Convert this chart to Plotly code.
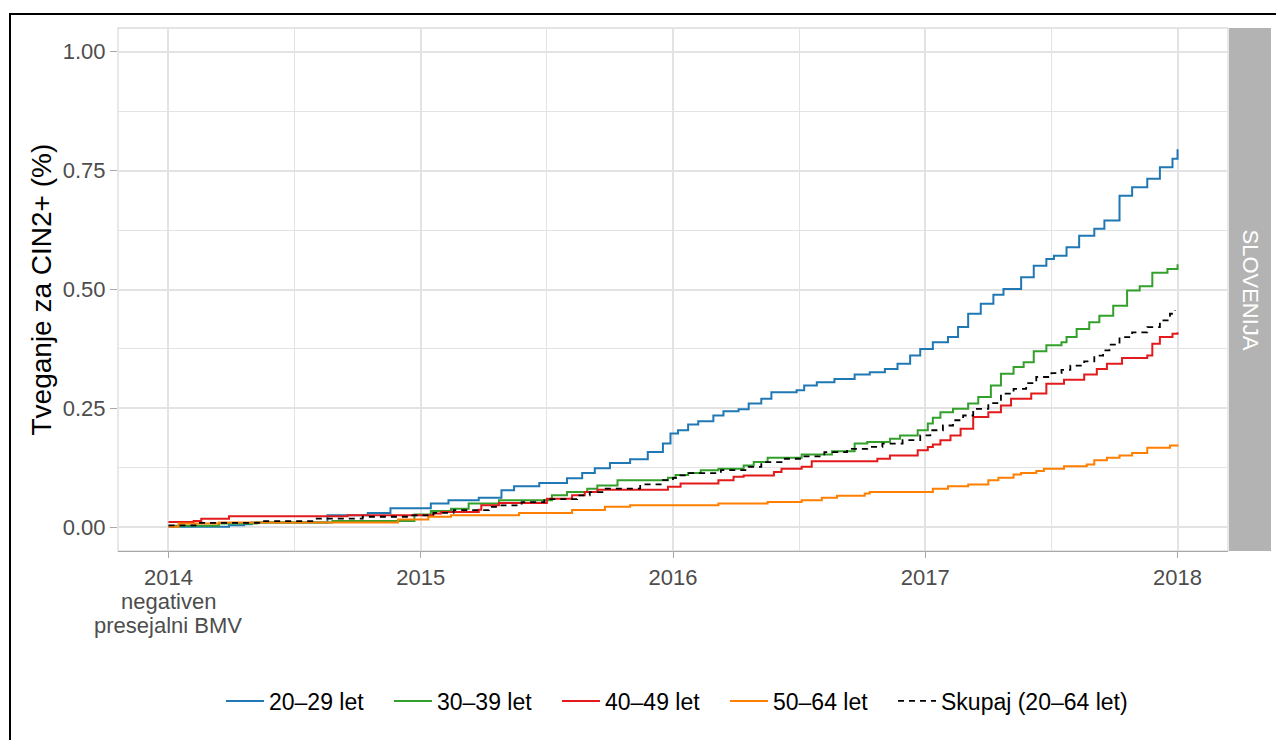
import plotly.graph_objects as go

# ---------------- data ----------------
tick_years = [2014, 2015, 2016, 2017, 2018]
tick_labels = ["2014", "2015", "2016", "2017", "2018"]
first_tick_sublabels = ["negativen", "presejalni BMV"]
y_ticks = [0.0, 0.25, 0.5, 0.75, 1.0]
y_tick_labels = ["0.00", "0.25", "0.50", "0.75", "1.00"]

series_names = ["20–29 let", "30–39 let", "40–49 let", "50–64 let", "Skupaj (20–64 let)"]

x_2029 = [2014.00, 2014.24, 2014.30, 2014.33, 2014.63, 2014.79, 2014.88, 2015.04, 2015.11, 2015.23,
          2015.32, 2015.37, 2015.47, 2015.58, 2015.64, 2015.69, 2015.75, 2015.83, 2015.90, 2015.96,
          2015.99, 2016.02, 2016.06, 2016.10, 2016.16, 2016.20, 2016.26, 2016.30, 2016.35, 2016.39,
          2016.49, 2016.52, 2016.57, 2016.64, 2016.72, 2016.78, 2016.84, 2016.89, 2016.94, 2016.98,
          2017.03, 2017.09, 2017.13, 2017.17, 2017.22, 2017.27, 2017.31, 2017.38, 2017.43, 2017.48,
          2017.51, 2017.56, 2017.61, 2017.67, 2017.71, 2017.77, 2017.82, 2017.88, 2017.93, 2017.98,
          2018.00]
y_2029 = [0.001, 0.004, 0.006, 0.010, 0.025, 0.030, 0.040, 0.050, 0.057, 0.062,
          0.078, 0.086, 0.093, 0.103, 0.114, 0.124, 0.135, 0.143, 0.158, 0.176,
          0.197, 0.204, 0.216, 0.223, 0.235, 0.244, 0.248, 0.260, 0.270, 0.284,
          0.288, 0.298, 0.305, 0.312, 0.321, 0.326, 0.333, 0.344, 0.361, 0.375,
          0.389, 0.400, 0.421, 0.449, 0.470, 0.489, 0.501, 0.526, 0.550, 0.564,
          0.571, 0.589, 0.613, 0.628, 0.645, 0.697, 0.715, 0.733, 0.757, 0.775,
          0.795]

x_3039 = [2014.02, 2014.20, 2014.35, 2014.65, 2014.975, 2015.04, 2015.12, 2015.19, 2015.31, 2015.52,
          2015.58, 2015.66, 2015.70, 2015.78, 2015.98, 2016.01, 2016.06, 2016.11, 2016.18, 2016.28,
          2016.32, 2016.375, 2016.51, 2016.63, 2016.72, 2016.77, 2016.86, 2016.90, 2016.97, 2017.01,
          2017.03, 2017.06, 2017.11, 2017.17, 2017.21, 2017.26, 2017.30, 2017.35, 2017.39, 2017.43,
          2017.48, 2017.54, 2017.56, 2017.60, 2017.65, 2017.69, 2017.745, 2017.80, 2017.85, 2017.90,
          2017.96, 2018.00]
y_3039 = [0.003, 0.008, 0.010, 0.013, 0.027, 0.034, 0.039, 0.050, 0.057, 0.067,
          0.074, 0.081, 0.088, 0.099, 0.104, 0.110, 0.114, 0.120, 0.123, 0.130,
          0.137, 0.146, 0.153, 0.160, 0.176, 0.179, 0.186, 0.193, 0.204, 0.218,
          0.230, 0.242, 0.249, 0.260, 0.274, 0.298, 0.323, 0.337, 0.347, 0.370,
          0.383, 0.389, 0.400, 0.417, 0.431, 0.445, 0.466, 0.498, 0.507, 0.535,
          0.543, 0.553]

x_4049 = [2014.00, 2014.10, 2014.13, 2014.24, 2014.71, 2015.05, 2015.08, 2015.23, 2015.24, 2015.31,
          2015.50, 2015.60, 2015.65, 2015.70, 2015.98, 2016.03, 2016.18, 2016.24, 2016.28, 2016.40,
          2016.43, 2016.51, 2016.55, 2016.81, 2016.86, 2016.97, 2017.01, 2017.03, 2017.06, 2017.10,
          2017.14, 2017.19, 2017.25, 2017.30, 2017.34, 2017.42, 2017.48, 2017.55, 2017.63, 2017.68,
          2017.72, 2017.78, 2017.88, 2017.90, 2017.93, 2017.98, 2018.00]
y_4049 = [0.011, 0.013, 0.018, 0.023, 0.025, 0.029, 0.032, 0.037, 0.046, 0.051,
          0.060, 0.067, 0.074, 0.079, 0.085, 0.092, 0.099, 0.106, 0.109, 0.116,
          0.123, 0.127, 0.139, 0.144, 0.151, 0.162, 0.169, 0.174, 0.183, 0.193,
          0.207, 0.232, 0.242, 0.256, 0.270, 0.281, 0.302, 0.310, 0.321, 0.333,
          0.344, 0.356, 0.361, 0.386, 0.400, 0.407, 0.410]

x_5064 = [2014.00, 2014.04, 2014.20, 2014.91, 2015.03, 2015.12, 2015.39, 2015.60, 2015.73, 2015.83,
          2016.18, 2016.375, 2016.51, 2016.59, 2016.65, 2016.76, 2016.78, 2017.03, 2017.09, 2017.17,
          2017.25, 2017.29, 2017.35, 2017.38, 2017.44, 2017.47, 2017.55, 2017.64, 2017.67, 2017.72,
          2017.77, 2017.82, 2017.88, 2017.97, 2018.00]
y_5064 = [0.001, 0.008, 0.010, 0.016, 0.022, 0.025, 0.030, 0.036, 0.043, 0.046,
          0.050, 0.053, 0.057, 0.062, 0.066, 0.071, 0.074, 0.081, 0.086, 0.090,
          0.099, 0.104, 0.111, 0.114, 0.118, 0.123, 0.128, 0.132, 0.141, 0.146,
          0.151, 0.156, 0.167, 0.172, 0.174]

x_total = [2014.00, 2014.12, 2014.36, 2014.57, 2014.77, 2014.95, 2015.05, 2015.13, 2015.27, 2015.32,
           2015.40, 2015.49, 2015.62, 2015.67, 2015.72, 2015.87, 2015.96, 2016.00, 2016.02, 2016.06,
           2016.19, 2016.30, 2016.35, 2016.43, 2016.51, 2016.60, 2016.69, 2016.77, 2016.83, 2016.91,
           2016.98, 2017.02, 2017.07, 2017.11, 2017.15, 2017.19, 2017.25, 2017.30, 2017.35, 2017.40,
           2017.44, 2017.50, 2017.54, 2017.575, 2017.63, 2017.67, 2017.705, 2017.73, 2017.77, 2017.82,
           2017.88, 2017.93, 2017.97, 2017.99]
y_total = [0.004, 0.009, 0.013, 0.018, 0.022, 0.025, 0.030, 0.036, 0.043, 0.046,
           0.053, 0.059, 0.067, 0.074, 0.081, 0.090, 0.099, 0.104, 0.109, 0.114,
           0.120, 0.127, 0.137, 0.144, 0.149, 0.158, 0.165, 0.169, 0.176, 0.183,
           0.193, 0.204, 0.214, 0.225, 0.235, 0.249, 0.261, 0.281, 0.291, 0.303,
           0.316, 0.324, 0.331, 0.340, 0.349, 0.361, 0.372, 0.384, 0.400, 0.410,
           0.421, 0.435, 0.449, 0.456]

colors = ["#1F78B4", "#33A02C", "#E31A1C", "#FF7F00", "#000000"]
facet_label = "SLOVENIJA"
y_title = "Tveganje za CIN2+ (%)"

# ---------------- figure ----------------
W, H = 1276, 740
ML, MR, MT, MB = 118, 5, 28, 189
PW = W - ML - MR
PH = H - MT - MB
panel_right_px = 1228
strip_left_px = 1229
x_dom_end = (panel_right_px - ML) / PW


def py(px):  # pixel row -> paper y
    return (MT + PH - px) / PH


def pxx(px):  # pixel column -> paper x
    return (px - ML) / PW


FONT = "Liberation Sans, Arial, sans-serif"

fig = go.Figure()
all_x = [x_2029, x_3039, x_4049, x_5064, x_total]
all_y = [y_2029, y_3039, y_4049, y_5064, y_total]
for i, (xs, ys) in enumerate(zip(all_x, all_y)):
    fig.add_trace(go.Scatter(
        x=xs, y=ys, mode="lines", name=series_names[i],
        line=dict(color=colors[i], width=2 if i < 4 else 1.8, shape="hv",
                  dash="solid" if i < 4 else "6px,5px"),
        showlegend=True,
        legend="legend" if i < 4 else "legend2",
    ))

grid_col = "#E3E3E3"
legend_common = dict(
    orientation="h", yanchor="middle", y=py(701), xanchor="left",
    font=dict(size=23, color="#000000", family=FONT),
    bgcolor="rgba(0,0,0,0)", itemwidth=38,
)
fig.update_layout(
    width=W, height=H,
    margin=dict(l=ML, r=MR, t=MT, b=MB, pad=0),
    paper_bgcolor="white", plot_bgcolor="white",
    font=dict(family=FONT, size=22, color="#000000"),
    xaxis=dict(
        domain=[0, x_dom_end], range=[2013.8, 2018.2],
        tickmode="array", tickvals=tick_years, ticktext=tick_labels,
        tickfont=dict(size=22, color="#4D4D4D", family=FONT),
        showgrid=True, gridcolor=grid_col, gridwidth=1.5,
        minor=dict(dtick=0.5, tick0=2014, showgrid=True, gridcolor=grid_col, gridwidth=1.2, ticklen=0),
        ticks="outside", ticklen=6, tickwidth=1.3, tickcolor="#A8A8A8",
        showline=True, linecolor="#A8A8A8", linewidth=1.3, mirror=False,
        zeroline=False,
    ),
    yaxis=dict(
        range=[-0.05, 1.05],
        tickmode="array", tickvals=y_ticks, ticktext=y_tick_labels,
        tickfont=dict(size=22, color="#4D4D4D", family=FONT),
        showgrid=True, gridcolor=grid_col, gridwidth=1.5,
        minor=dict(dtick=0.125, tick0=0, showgrid=True, gridcolor=grid_col, gridwidth=1.2, ticklen=0),
        ticks="outside", ticklen=7, tickwidth=1.3, tickcolor="#A8A8A8",
        showline=False, zeroline=False,
    ),
    legend=dict(x=pxx(221), entrywidth=115, entrywidthmode="pixels", **legend_common),
    legend2=dict(x=pxx(893), **legend_common),
    showlegend=True,
)

# panel border
fig.add_shape(type="rect", xref="x domain", yref="y domain", x0=0, x1=1, y0=0, y1=1,
              line=dict(color="#DCDCDC", width=1.3), layer="below")
# facet strip
fig.add_shape(type="rect", xref="paper", yref="paper",
              x0=pxx(strip_left_px), x1=1.0, y0=0, y1=1,
              fillcolor="#B3B3B3", line=dict(width=0), layer="below")
fig.add_annotation(xref="paper", yref="paper",
                   x=pxx((strip_left_px + W - MR) / 2), y=0.5,
                   text=facet_label, textangle=90, showarrow=False,
                   font=dict(size=22, color="white", family=FONT),
                   xanchor="center", yanchor="middle")
# extra lines under the first x tick label
for txt, row in zip(first_tick_sublabels, [601, 625]):
    fig.add_annotation(xref="x", yref="paper", x=tick_years[0], y=py(row),
                       text=txt, showarrow=False,
                       font=dict(size=22, color="#4D4D4D", family=FONT),
                       xanchor="center", yanchor="middle")
# y axis title
fig.add_annotation(xref="paper", yref="paper", x=pxx(41), y=0.5,
                   text=y_title, textangle=-90, showarrow=False,
                   font=dict(size=28, color="#000000", family=FONT),
                   xanchor="center", yanchor="middle")
# outer black frame
fig.add_shape(type="rect", xref="paper", yref="paper",
              x0=pxx(10), x1=pxx(W + 20),
              y0=py(H + 20), y1=py(14),
              line=dict(color="black", width=2), fillcolor="rgba(0,0,0,0)", layer="above")

fig.write_html("out.html", config={"displayModeBar": False},
               post_script="document.body.style.margin='0';document.body.style.overflow='hidden';")
